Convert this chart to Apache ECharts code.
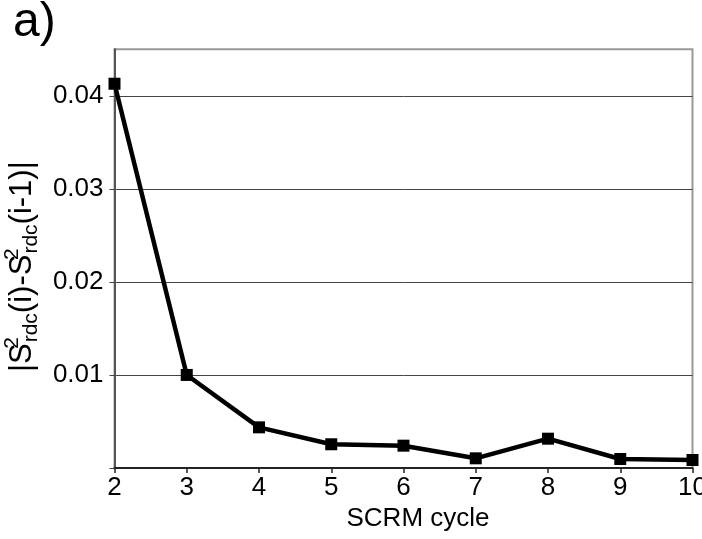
<!DOCTYPE html>
<html>
<head>
<meta charset="utf-8">
<script src="https://cdn.jsdelivr.net/npm/echarts@6/dist/echarts.min.js"></script>
<style>html,body{margin:0;padding:0;background:#fff;overflow:hidden}#c{width:702px;height:539px}</style>
</head>
<body>
<div id="c"></div>
<script>
var cycles = [2, 3, 4, 5, 6, 7, 8, 9, 10];
var deltaS2 = [0.0413, 0.0100, 0.00437, 0.00255, 0.0024, 0.00104, 0.00315, 0.00097, 0.00086];
var yTicks = [0.01, 0.02, 0.03, 0.04];

var chart = echarts.init(document.getElementById('c'));
var FONT = '"Liberation Sans", Arial, sans-serif';
chart.setOption({
  backgroundColor: '#fff',
  animation: false,
  title: {
    text: 'a)', left: 8, top: -6,
    textStyle: { fontFamily: FONT, fontSize: 48, fontWeight: 'normal', color: '#000' }
  },
  grid: {
    left: 114.5, right: 9.5, top: 49.3, bottom: 71,
    outerBoundsMode: 'none', containLabel: false,
    show: true, borderColor: '#999', borderWidth: 2, backgroundColor: 'transparent'
  },
  xAxis: {
    type: 'value', min: 2, max: 10, interval: 1,
    name: 'SCRM cycle', nameLocation: 'middle', nameGap: 38,
    nameTextStyle: { fontFamily: FONT, fontSize: 26, color: '#000', padding: [0, 0, 0, 29] },
    axisLine: { show: true, lineStyle: { color: '#222', width: 2 } },
    axisTick: { show: true, inside: false, length: 5, lineStyle: { color: '#222', width: 1.5 } },
    axisLabel: { fontFamily: FONT, fontSize: 26, color: '#000', margin: 7 },
    splitLine: { show: false }
  },
  yAxis: {
    type: 'value', min: 0, max: 0.045, interval: 0.01,
    name: '{n||S}{sup|2}{sub|rdc}{n|(i)-S}{sup|2}{sub|rdc}{n|(i-1)|}',
    nameLocation: 'middle', nameRotate: 90, nameGap: 72,
    nameTextStyle: {
      fontFamily: FONT, color: '#000', padding: [0, 16, 0, 0],
      rich: {
        n: { fontFamily: FONT, fontSize: 31, color: '#000', lineHeight: 40, verticalAlign: 'middle' },
        sup: { fontFamily: FONT, fontSize: 21, color: '#000', lineHeight: 40, verticalAlign: 'top', width: 1 },
        sub: { fontFamily: FONT, fontSize: 21, color: '#000', lineHeight: 40, verticalAlign: 'bottom' }
      }
    },
    axisLine: { show: true, lineStyle: { color: '#555', width: 2 } },
    axisTick: { show: true, inside: false, length: 5, lineStyle: { color: '#444', width: 1 } },
    axisLabel: {
      fontFamily: FONT, fontSize: 26, color: '#000', margin: 11,
      showMaxLabel: false,
      formatter: function (v) { return yTicks.indexOf(Math.round(v * 1000) / 1000) >= 0 ? String(Math.round(v * 100) / 100) : ''; }
    },
    splitLine: { show: true, showMinLine: false, showMaxLine: false, lineStyle: { color: '#444', width: 1 } }
  },
  series: [{
    type: 'line',
    data: cycles.map(function (c, i) { return [c, deltaS2[i]]; }),
    symbol: 'rect', symbolSize: 12,
    lineStyle: { color: '#000', width: 4.5 },
    itemStyle: { color: '#000' },
    clip: false
  }]
});
</script>
</body>
</html>
